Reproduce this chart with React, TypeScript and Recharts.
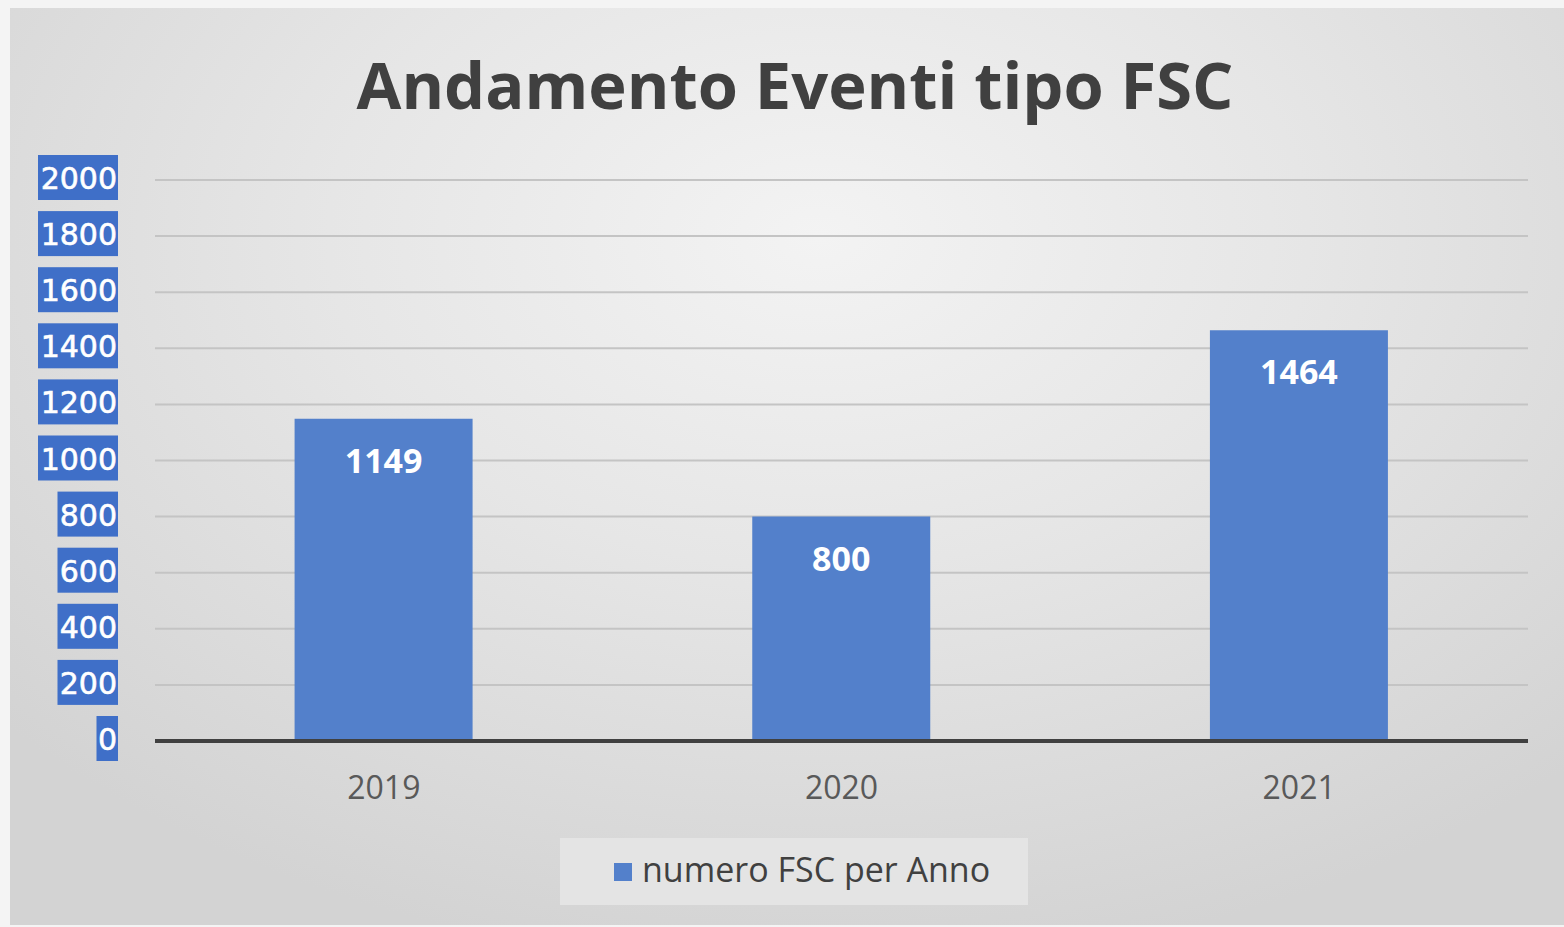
import React from 'react'
import { Bar, BarChart, CartesianGrid, LabelList, XAxis, YAxis } from 'recharts'

const years = ['2019', '2020', '2021']
const fscPerYear = [1149, 800, 1464]
const yTicks = [0, 200, 400, 600, 800, 1000, 1200, 1400, 1600, 1800, 2000]

const data = years.map((year, i) => ({ year, value: fscPerYear[i] }))

const BAR = '#5380cb'
const FONT = '"Open Sans", "Noto Sans", sans-serif'

// etichette asse Y: riquadro blu con testo bianco, come nello screenshot
function YTick({ x, y, payload }: any) {
  const label = String(payload.value)
  const w = label.length * 19.5 + 2
  return (
    <g>
      <rect x={x - w + 1} y={y - 25} width={w} height={45} fill="#3f6fc8" />
      <text
        x={x}
        y={y + 9}
        textAnchor="end"
        fill="#ffffff"
        fontSize={30}
        fontFamily='"DejaVu Sans", sans-serif'
        stroke="#ffffff"
        strokeWidth={0.6}
      >
        {label}
      </text>
    </g>
  )
}

export default function App() {
  return (
    <div
      style={{
        position: 'absolute',
        left: 0,
        top: 0,
        width: 1564,
        height: 927,
        background: '#f4f4f4',
        overflow: 'hidden',
      }}
    >
      <div
        style={{
          position: 'absolute',
          left: 10,
          top: 8,
          width: 1554,
          height: 917,
          background:
            'radial-gradient(ellipse 70% 80% at 52% 25%, #f3f3f3 0%, #e6e6e6 45%, #d3d3d3 100%)',
        }}
      />
      <div
        style={{
          position: 'absolute',
          left: 0,
          top: 40,
          width: 1590,
          textAlign: 'center',
          fontFamily: FONT,
          fontWeight: 700,
          fontSize: 65,
          color: '#404040',
        }}
      >
        Andamento Eventi tipo FSC
      </div>
      <div style={{ position: 'absolute', left: 0, top: 0 }}>
        <BarChart
          width={1564}
          height={927}
          data={data}
          margin={{ top: 180, right: 36, bottom: 0, left: 0 }}
          barCategoryGap="30.5%"
        >
          <CartesianGrid vertical={false} stroke="#c4c4c4" strokeWidth={2} />
          <YAxis
            domain={[0, 2000]}
            ticks={yTicks}
            width={155}
            axisLine={false}
            tickLine={false}
            tickSize={0}
            tickMargin={38}
            tick={<YTick />}
            interval={0}
          />
          <XAxis
            dataKey="year"
            height={186}
            axisLine={{ stroke: '#404040', strokeWidth: 4 }}
            tickLine={false}
            tickSize={0}
            tickMargin={35}
            tick={{ fill: '#595959', fontSize: 32, fontFamily: FONT }}
          />
          <Bar dataKey="value" fill={BAR} isAnimationActive={false}>
            <LabelList
              dataKey="value"
              position="insideTop"
              offset={30}
              fill="#ffffff"
              fontSize={34}
              fontWeight={700}
              fontFamily={FONT}
            />
          </Bar>
        </BarChart>
      </div>
      <div
        style={{
          position: 'absolute',
          left: 560,
          top: 838,
          width: 468,
          height: 67,
          background: '#e4e4e4',
          display: 'flex',
          alignItems: 'center',
          fontFamily: FONT,
          fontSize: 34,
          color: '#404040',
        }}
      >
        <span
          style={{
            display: 'inline-block',
            width: 18,
            height: 18,
            background: BAR,
            marginLeft: 54,
            marginRight: 10,
          }}
        />
        <span style={{ marginTop: -6 }}>numero FSC per Anno</span>
      </div>
    </div>
  )
}
